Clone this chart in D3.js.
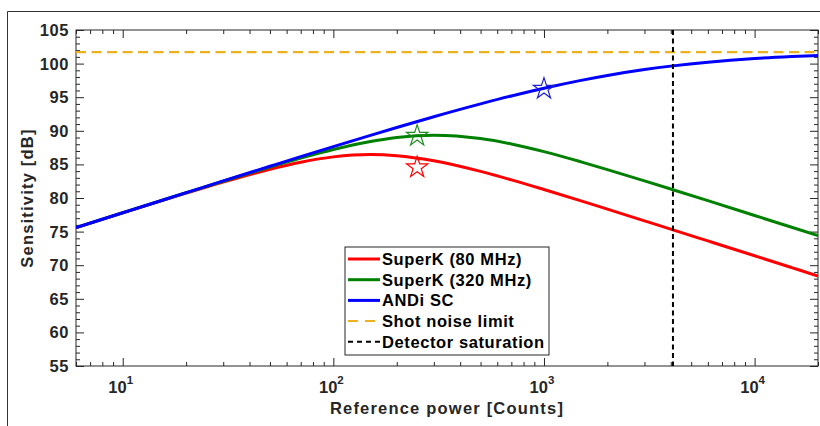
<!DOCTYPE html>
<html>
<head>
<meta charset="utf-8">
<script src="https://cdn.jsdelivr.net/npm/d3@7"></script>
<style>
  body { margin: 0; background: #fff; }
  text { font-family: "Liberation Sans", Arial, sans-serif; font-weight: bold; fill: #262626; }
</style>
</head>
<body>
<div id="chart"></div>
<script>
// reference power [counts]
const power = [6, 10, 20, 30, 50, 70, 100, 150, 200, 300, 500, 700, 1000, 1500, 2000, 3000, 4096, 6000, 10000, 15000, 20000];

// sensitivity [dB]
const superK80 = [75.58, 77.78, 80.72, 82.37, 84.28, 85.32, 86.12, 86.47, 86.30, 85.54, 83.96, 82.70, 81.26, 79.57, 78.34, 76.60, 75.26, 73.61, 71.40, 69.64, 68.39];
const superK320 = [75.59, 77.80, 80.78, 82.50, 84.61, 85.93, 87.21, 88.41, 89.01, 89.35, 88.85, 88.04, 86.90, 85.38, 84.23, 82.55, 81.23, 79.60, 77.40, 75.65, 74.40];
const andiSC = [75.59, 77.80, 80.79, 82.54, 84.72, 86.15, 87.65, 89.32, 90.49, 92.09, 94.00, 95.18, 96.33, 97.50, 98.23, 99.11, 99.66, 100.21, 100.75, 101.04, 101.20];

const shotNoise = 101.7;
const saturation = 4096;

// measured points (stars)
const starPower = [250, 250, 1000];
const starSens = [84.7, 89.4, 96.4];
const starColor = ["#ff0000", "#1f8a1f", "#1f1fd0"];

const seriesNames = ["SuperK (80 MHz)", "SuperK (320 MHz)", "ANDi SC", "Shot noise limit", "Detector saturation"];
const seriesColors = ["#ff0000", "#008000", "#0000ff", "#edb120", "#000000"];

const yTicks = [55, 60, 65, 70, 75, 80, 85, 90, 95, 100, 105];
const xDecades = [10, 100, 1000, 10000];
const xDecadeExp = ["1", "2", "3", "4"];

const W = 820, H = 426;
const m = { left: 76, right: 818, top: 30, bottom: 366 };

const svg = d3.select("#chart").append("svg").attr("width", W).attr("height", H);

// outer figure frame
svg.append("path")
  .attr("d", `M7.5,${H} V11.5 H${W}`)
  .attr("fill", "none").attr("stroke", "#333").attr("stroke-width", 1);

const x = d3.scaleLog().domain([6, 20000]).range([m.left, m.right]);
const y = d3.scaleLinear().domain([55, 105]).range([m.bottom, m.top]);

svg.append("defs").append("clipPath").attr("id", "clip")
  .append("rect").attr("x", m.left).attr("y", m.top)
  .attr("width", m.right - m.left).attr("height", m.bottom - m.top);

// minor ticks
const xMinor = [];
[1, 10, 100, 1000, 10000].forEach((d) => {
  for (let k = 2; k <= 9; k++) {
    const v = d * k;
    if (v >= 6 && v <= 20000) xMinor.push(v);
  }
});
const yMinor = d3.range(55, 106).filter((v) => v % 5 !== 0);

function styleAxis(g) {
  g.select(".domain").remove();
  g.selectAll(".tick line").attr("stroke", "#262626");
  g.selectAll(".tick text").remove();
}

const axes = svg.append("g");
axes.append("g").attr("transform", `translate(0,${m.bottom})`)
  .call(d3.axisBottom(x).tickValues(xDecades).tickSize(-8)).call(styleAxis);
axes.append("g").attr("transform", `translate(0,${m.bottom})`)
  .call(d3.axisBottom(x).tickValues(xMinor).tickSize(-4)).call(styleAxis);
axes.append("g").attr("transform", `translate(0,${m.top})`)
  .call(d3.axisTop(x).tickValues(xDecades).tickSize(-8)).call(styleAxis);
axes.append("g").attr("transform", `translate(0,${m.top})`)
  .call(d3.axisTop(x).tickValues(xMinor).tickSize(-4)).call(styleAxis);
axes.append("g").attr("transform", `translate(${m.left},0)`)
  .call(d3.axisLeft(y).tickValues(yTicks).tickSize(-8)).call(styleAxis);
axes.append("g").attr("transform", `translate(${m.left},0)`)
  .call(d3.axisLeft(y).tickValues(yMinor).tickSize(-4)).call(styleAxis);
axes.append("g").attr("transform", `translate(${m.right},0)`)
  .call(d3.axisRight(y).tickValues(yTicks).tickSize(-8)).call(styleAxis);
axes.append("g").attr("transform", `translate(${m.right},0)`)
  .call(d3.axisRight(y).tickValues(yMinor).tickSize(-4)).call(styleAxis);

svg.append("rect")
  .attr("x", m.left).attr("y", m.top)
  .attr("width", m.right - m.left).attr("height", m.bottom - m.top)
  .attr("fill", "none").attr("stroke", "#262626").attr("stroke-width", 1);

// tick labels
svg.append("g").selectAll("text").data(yTicks).join("text")
  .attr("x", m.left - 7).attr("y", (d) => y(d) + 6)
  .attr("text-anchor", "end").attr("font-size", 16.5).attr("letter-spacing", 0.6)
  .text((d) => d);

const xl = svg.append("g").selectAll("text").data(xDecades).join("text")
  .attr("x", (d) => x(d) - 2).attr("y", 393)
  .attr("text-anchor", "middle").attr("font-size", 16.5);
xl.append("tspan").text("10");
xl.append("tspan").attr("dy", -9).attr("font-size", 11.5).text((d, i) => xDecadeExp[i]);

// axis labels
svg.append("text")
  .attr("x", (m.left + m.right) / 2).attr("y", 414)
  .attr("text-anchor", "middle").attr("font-size", 16.5).attr("letter-spacing", 1.2)
  .text("Reference power [Counts]");
svg.append("text")
  .attr("transform", `translate(33,${(m.top + m.bottom) / 2}) rotate(-90)`)
  .attr("text-anchor", "middle").attr("font-size", 16.5).attr("letter-spacing", 1.2)
  .text("Sensitivity [dB]");

// curves
const plot = svg.append("g").attr("clip-path", "url(#clip)");

plot.append("line")
  .attr("x1", m.left).attr("x2", m.right)
  .attr("y1", y(shotNoise)).attr("y2", y(shotNoise))
  .attr("stroke", seriesColors[3]).attr("stroke-width", 2.2)
  .attr("stroke-dasharray", "10,5.5");

const line = d3.line()
  .x((d, i) => x(power[i]))
  .y((d) => y(d))
  .curve(d3.curveMonotoneX);

[superK80, superK320, andiSC].forEach((s, i) => {
  plot.append("path").datum(s)
    .attr("d", line)
    .attr("fill", "none")
    .attr("stroke", seriesColors[i])
    .attr("stroke-width", 3);
});

plot.append("line")
  .attr("x1", x(saturation)).attr("x2", x(saturation))
  .attr("y1", m.top).attr("y2", m.bottom)
  .attr("stroke", "#000").attr("stroke-width", 2)
  .attr("stroke-dasharray", "5,3.5");

plot.selectAll(".star").data(starPower).join("path")
  .attr("class", "star")
  .attr("transform", (d, i) => `translate(${x(d)},${y(starSens[i]) + 1})`)
  .attr("d", d3.symbol(d3.symbolStar, 140))
  .attr("fill", "none")
  .attr("stroke", (d, i) => starColor[i])
  .attr("stroke-width", 1.2);

// legend
const lg = svg.append("g").attr("transform", "translate(345,247)");
lg.append("rect").attr("width", 204).attr("height", 108)
  .attr("fill", "#fff").attr("stroke", "#262626").attr("stroke-width", 1);

const rows = lg.selectAll("g").data(seriesNames).join("g")
  .attr("transform", (d, i) => `translate(0,${12 + i * 20.7})`);
rows.append("line")
  .attr("x1", 3).attr("x2", 35)
  .attr("stroke", (d, i) => seriesColors[i])
  .attr("stroke-width", (d, i) => (i < 3 ? 3 : 2))
  .attr("stroke-dasharray", (d, i) => (i === 3 ? "10,7" : i === 4 ? "5,4" : null));
rows.append("text")
  .attr("x", 37).attr("y", 6)
  .attr("font-size", 16.5).attr("letter-spacing", 0.6)
  .attr("fill", "#000")
  .style("fill", "#000")
  .text((d) => d);
</script>
</body>
</html>
